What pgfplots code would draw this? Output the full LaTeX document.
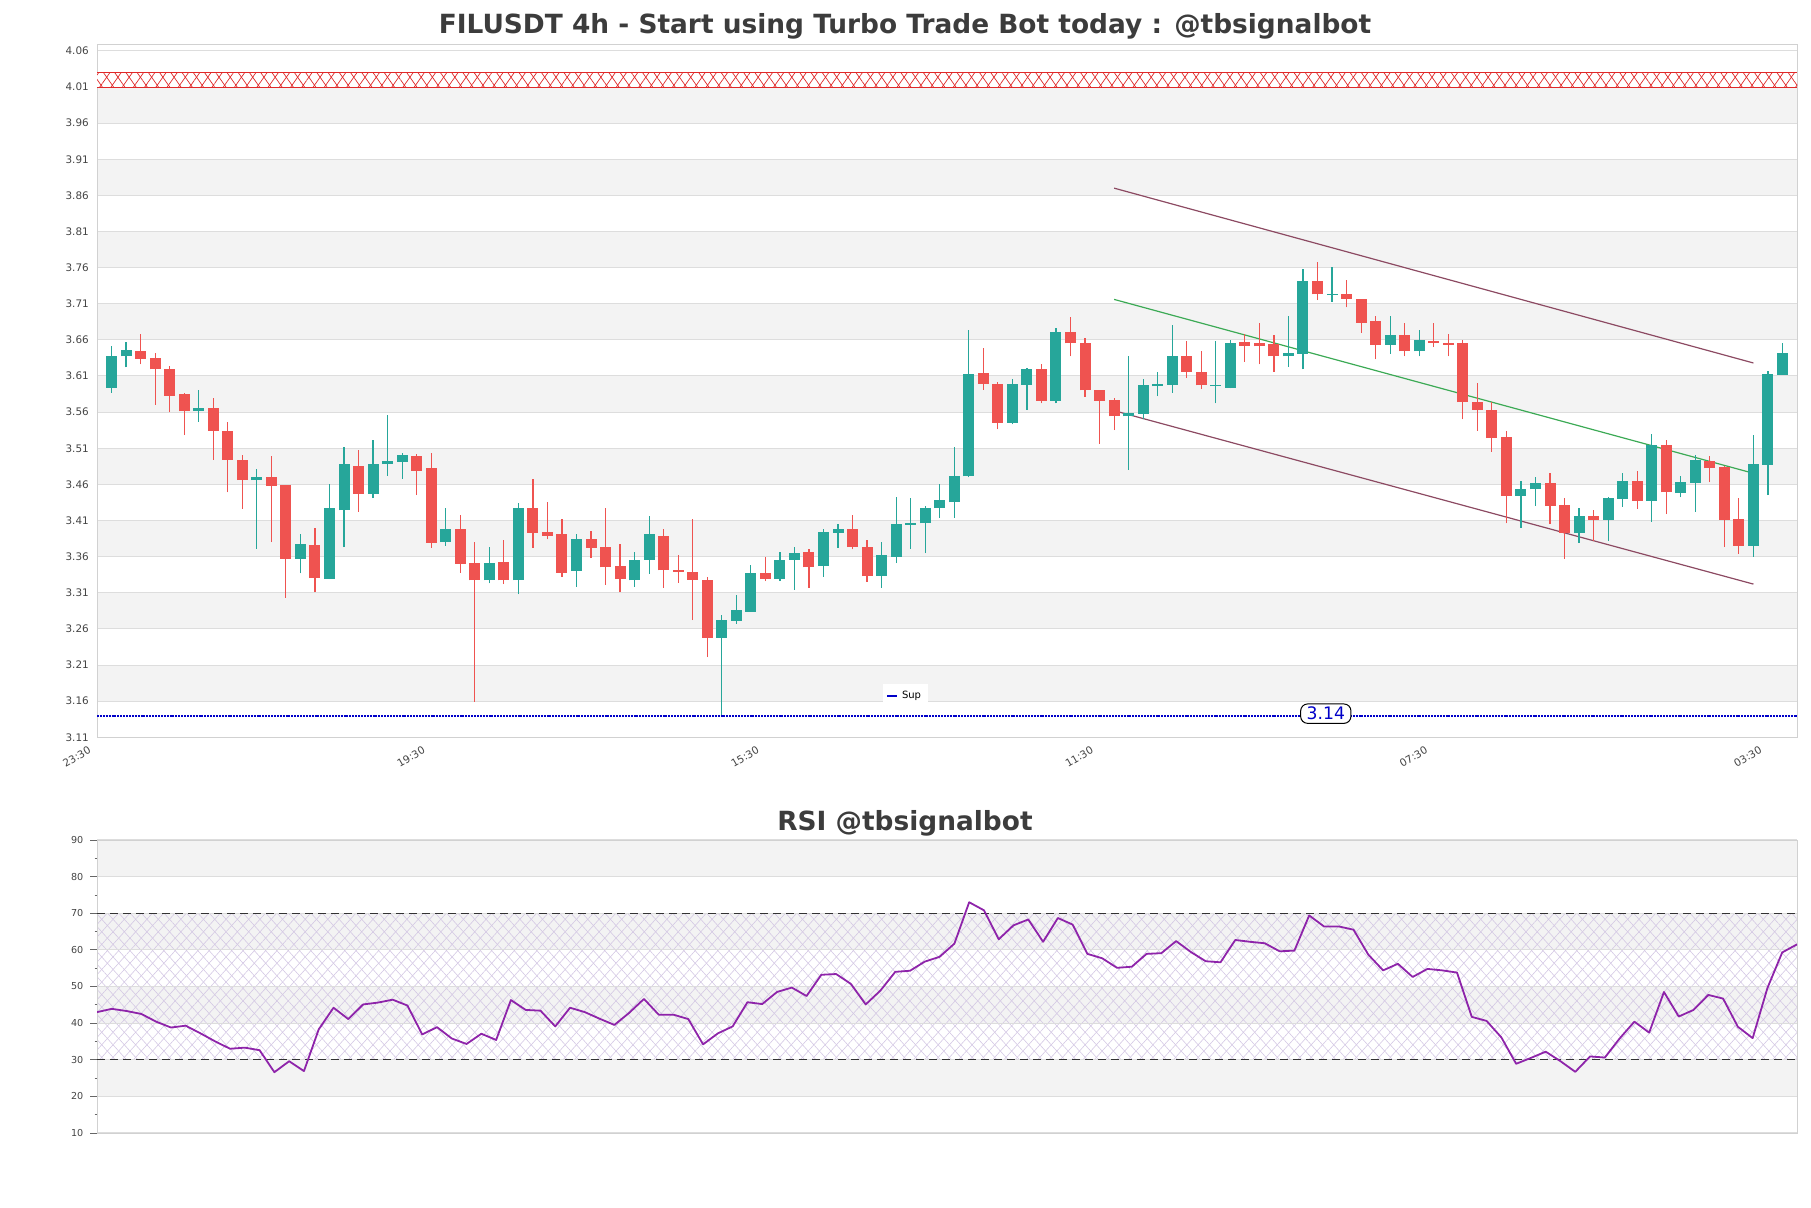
\documentclass[border=0pt]{standalone}
\usepackage{pgfplots}
\pgfplotsset{compat=1.18}
\usepackage{pgfplotstable}
\usepackage{fontspec}
\setmainfont{DejaVu Sans}
\usetikzlibrary{patterns.meta}

\definecolor{cgreen}{HTML}{26A69A}
\definecolor{cred}{HTML}{EF5350}
\definecolor{band}{HTML}{F3F3F3}
\definecolor{gridc}{HTML}{DDDDDD}
\definecolor{chan}{HTML}{8C4A62}
\definecolor{mid}{HTML}{3CAA55}
\definecolor{sup}{HTML}{0000C8}
\definecolor{rsic}{HTML}{8E24AA}
\definecolor{lav}{HTML}{D4C8E4}
\definecolor{titlec}{HTML}{3C3C3C}
\definecolor{tickc}{HTML}{444444}
\definecolor{hatchred}{HTML}{E02828}

% green candles: index open high low close
\pgfplotstableread{
i o h l c
0 3.594 3.652 3.587 3.638
1 3.637 3.657 3.622 3.646
6 3.562 3.591 3.547 3.566
10 3.466 3.481 3.371 3.470
13 3.357 3.392 3.337 3.377
15 3.329 3.461 3.329 3.427
16 3.424 3.512 3.373 3.488
18 3.447 3.522 3.441 3.488
19 3.488 3.556 3.472 3.492
20 3.491 3.503 3.468 3.500
23 3.380 3.428 3.375 3.398
26 3.327 3.373 3.323 3.351
28 3.327 3.434 3.308 3.427
32 3.340 3.391 3.318 3.384
36 3.327 3.366 3.318 3.356
37 3.356 3.416 3.336 3.391
42 3.248 3.279 3.141 3.272
43 3.271 3.307 3.267 3.286
44 3.284 3.348 3.284 3.337
46 3.329 3.367 3.326 3.356
47 3.356 3.373 3.314 3.365
49 3.347 3.398 3.332 3.394
50 3.393 3.405 3.372 3.398
53 3.333 3.380 3.317 3.362
54 3.360 3.442 3.351 3.405
55 3.404 3.441 3.371 3.407
56 3.406 3.430 3.365 3.427
57 3.427 3.461 3.414 3.438
58 3.435 3.512 3.414 3.472
59 3.471 3.674 3.470 3.613
62 3.545 3.606 3.543 3.599
63 3.598 3.621 3.563 3.620
65 3.576 3.677 3.572 3.671
70 3.554 3.638 3.480 3.559
71 3.558 3.606 3.550 3.597
72 3.596 3.615 3.582 3.599
73 3.598 3.681 3.587 3.638
76 3.596 3.659 3.572 3.598
77 3.594 3.660 3.593 3.656
81 3.637 3.693 3.623 3.642
82 3.641 3.758 3.619 3.742
84 3.722 3.761 3.713 3.724
88 3.653 3.693 3.641 3.667
90 3.644 3.674 3.637 3.660
97 3.444 3.464 3.400 3.453
98 3.453 3.470 3.430 3.462
101 3.393 3.428 3.379 3.416
103 3.411 3.442 3.382 3.441
104 3.440 3.476 3.429 3.465
106 3.437 3.530 3.408 3.514
108 3.448 3.471 3.442 3.463
109 3.462 3.501 3.422 3.494
113 3.375 3.528 3.360 3.488
114 3.487 3.617 3.445 3.613
115 3.612 3.655 3.612 3.642
}\greencandles

% red candles
\pgfplotstableread{
i o h l c
2 3.645 3.668 3.626 3.634
3 3.635 3.642 3.570 3.619
4 3.620 3.624 3.560 3.583
5 3.585 3.587 3.528 3.561
7 3.566 3.579 3.494 3.534
8 3.534 3.546 3.449 3.494
9 3.494 3.501 3.426 3.466
11 3.470 3.499 3.380 3.458
12 3.459 3.459 3.303 3.357
14 3.376 3.399 3.311 3.331
17 3.486 3.507 3.422 3.447
21 3.499 3.502 3.445 3.479
22 3.482 3.504 3.372 3.379
24 3.398 3.418 3.338 3.350
25 3.351 3.380 3.159 3.327
27 3.352 3.383 3.322 3.327
29 3.427 3.468 3.372 3.393
30 3.394 3.436 3.384 3.389
31 3.391 3.412 3.332 3.338
33 3.384 3.395 3.358 3.372
34 3.373 3.427 3.321 3.345
35 3.347 3.378 3.311 3.329
38 3.389 3.398 3.317 3.341
39 3.342 3.362 3.324 3.339
40 3.339 3.412 3.272 3.328
41 3.328 3.332 3.221 3.248
45 3.337 3.359 3.326 3.329
48 3.366 3.370 3.317 3.345
51 3.398 3.417 3.370 3.373
52 3.374 3.383 3.325 3.333
60 3.614 3.649 3.591 3.599
61 3.599 3.602 3.536 3.545
64 3.620 3.627 3.572 3.576
66 3.671 3.691 3.637 3.655
67 3.656 3.663 3.581 3.590
68 3.591 3.591 3.516 3.576
69 3.577 3.579 3.535 3.554
74 3.638 3.658 3.607 3.616
75 3.616 3.644 3.592 3.597
78 3.657 3.668 3.630 3.652
79 3.655 3.684 3.626 3.651
80 3.654 3.667 3.616 3.637
83 3.742 3.768 3.715 3.723
85 3.724 3.743 3.705 3.717
86 3.717 3.717 3.670 3.684
87 3.686 3.693 3.633 3.653
89 3.667 3.684 3.637 3.644
91 3.659 3.684 3.650 3.656
92 3.656 3.668 3.637 3.653
93 3.655 3.660 3.550 3.574
94 3.574 3.601 3.534 3.563
95 3.563 3.574 3.505 3.524
96 3.525 3.534 3.406 3.444
99 3.462 3.476 3.405 3.430
100 3.432 3.441 3.357 3.393
102 3.416 3.424 3.382 3.411
105 3.465 3.478 3.426 3.437
107 3.514 3.521 3.419 3.449
110 3.493 3.499 3.463 3.482
111 3.484 3.485 3.373 3.411
112 3.412 3.441 3.364 3.375
}\redcandles

% RSI
\pgfplotstableread{
j v
0 43.0
1 43.9
2 43.3
3 42.5
4 40.4
5 38.8
6 39.3
7 37.2
8 35.0
9 33.0
10 33.3
11 32.6
12 26.6
13 29.6
14 26.9
15 38.3
16 44.2
17 41.1
18 45.1
19 45.6
20 46.4
21 44.8
22 36.9
23 38.9
24 35.8
25 34.3
26 37.1
27 35.4
28 46.3
29 43.6
30 43.4
31 39.1
32 44.2
33 43.0
34 41.2
35 39.5
36 42.8
37 46.6
38 42.3
39 42.3
40 41.1
41 34.2
42 37.2
43 39.1
44 45.7
45 45.2
46 48.5
47 49.7
48 47.4
49 53.2
50 53.4
51 50.7
52 45.1
53 48.9
54 54.0
55 54.3
56 56.8
57 58.1
58 61.7
59 73.0
60 70.8
61 62.9
62 66.7
63 68.3
64 62.2
65 68.7
66 66.9
67 58.9
68 57.7
69 55.1
70 55.4
71 58.9
72 59.1
73 62.4
74 59.4
75 56.9
76 56.6
77 62.7
78 62.2
79 61.8
80 59.6
81 59.8
82 69.4
83 66.4
84 66.4
85 65.5
86 58.7
87 54.4
88 56.2
89 52.6
90 54.8
91 54.4
92 53.8
93 41.7
94 40.6
95 36.1
96 28.9
97 30.5
98 32.2
99 29.6
100 26.7
101 30.9
102 30.6
103 35.8
104 40.4
105 37.4
106 48.5
107 41.8
108 43.6
109 47.7
110 46.7
111 39.0
112 35.9
113 49.6
114 59.3
115 61.5
}\rsi

\begin{document}
\begin{tikzpicture}

\node[anchor=base, font=\fontsize{13.2}{15}\selectfont\bfseries, text=titlec]
  at (452.5pt,587.3pt) {FILUSDT 4h - Start using Turbo Trade Bot today : @tbsignalbot};
\node[anchor=base, font=\fontsize{13.2}{15}\selectfont\bfseries, text=titlec]
  at (452.5pt,188.8pt) {RSI @tbsignalbot};

% price panel
\begin{axis}[
  set layers,
  at={(48.5pt,235.35pt)}, anchor=south west,
  width=850pt, height=346.65pt, scale only axis,
  xmin=-1, xmax=116, ymin=3.11, ymax=4.0695,
  axis line style={draw=black!18},
  major tick length=0pt,
  ytick={3.11,3.16,3.21,3.26,3.31,3.36,3.41,3.46,3.51,3.56,3.61,3.66,3.71,3.76,3.81,3.86,3.91,3.96,4.01,4.06},
  yticklabels={3.11,3.16,3.21,3.26,3.31,3.36,3.41,3.46,3.51,3.56,3.61,3.66,3.71,3.76,3.81,3.86,3.91,3.96,4.01,4.06},
  yticklabel style={font=\fontsize{5.2}{6}\selectfont, text=tickc, xshift=-0.6pt},
  xtick={-1,22,45,68,91,114},
  xticklabels={23:30,19:30,15:30,11:30,07:30,03:30},
  xticklabel style={font=\fontsize{5.2}{6}\selectfont, text=tickc, rotate=30, anchor=north east,
    xshift=-2.6pt, yshift=2.2pt},
  ymajorgrids, grid style={gridc, line width=0.5pt},
  legend style={at={(0.4756,0.0596)}, anchor=center, draw=none, fill=white,
    font=\fontsize{5}{6}\selectfont, inner sep=1.5pt},
  legend image code/.code={\draw[#1, solid, line width=1pt] (0pt,0pt) -- (5pt,0pt);},
]
\begin{pgfonlayer}{axis background}
  \fill[band] (axis cs:-1,3.16) rectangle (axis cs:116,3.21);
  \fill[band] (axis cs:-1,3.26) rectangle (axis cs:116,3.31);
  \fill[band] (axis cs:-1,3.36) rectangle (axis cs:116,3.41);
  \fill[band] (axis cs:-1,3.46) rectangle (axis cs:116,3.51);
  \fill[band] (axis cs:-1,3.56) rectangle (axis cs:116,3.61);
  \fill[band] (axis cs:-1,3.66) rectangle (axis cs:116,3.71);
  \fill[band] (axis cs:-1,3.76) rectangle (axis cs:116,3.81);
  \fill[band] (axis cs:-1,3.86) rectangle (axis cs:116,3.91);
  \fill[band] (axis cs:-1,3.96) rectangle (axis cs:116,4.01);
\end{pgfonlayer}

% resistance zone
\fill[white] (axis cs:-1,4.009) rectangle (axis cs:116,4.030);
\fill[pattern={Lines[angle=55,distance=4.6pt,line width=0.35pt]}, pattern color=hatchred]
  (axis cs:-1,4.009) rectangle (axis cs:116,4.030);
\fill[pattern={Lines[angle=-55,distance=4.6pt,line width=0.35pt]}, pattern color=hatchred]
  (axis cs:-1,4.009) rectangle (axis cs:116,4.030);
\draw[hatchred, line width=0.4pt] (axis cs:-1,4.009) -- (axis cs:116,4.009)
  (axis cs:-1,4.030) -- (axis cs:116,4.030);

% channel
\addplot[forget plot, chan, line width=0.6pt] coordinates {(69,3.870) (113,3.628)};
\addplot[forget plot, chan, line width=0.6pt] coordinates {(69,3.562) (113,3.322)};
\addplot[forget plot, mid, line width=0.6pt] coordinates {(69,3.716) (112.7,3.477)};

% wicks
\addplot[forget plot, cgreen, line width=0.6pt, mark=none,
  quiver={u=0, v=\thisrow{h}-\thisrow{l}}] table[x=i, y=l] {\greencandles};
\addplot[forget plot, cred, line width=0.6pt, mark=none,
  quiver={u=0, v=\thisrow{h}-\thisrow{l}}] table[x=i, y=l] {\redcandles};
% bodies
\addplot[forget plot, cgreen, line width=5.5pt, mark=none,
  quiver={u=0, v=\thisrow{c}-\thisrow{o}}] table[x=i, y=o] {\greencandles};
\addplot[forget plot, cred, line width=5.5pt, mark=none,
  quiver={u=0, v=\thisrow{o}-\thisrow{c}}] table[x=i, y=c] {\redcandles};

% support
\addplot[sup, line width=1.1pt, dash pattern=on 1pt off 0.45pt] coordinates {(-1,3.14) (116,3.14)};
\addlegendentry{Sup}
\node[draw=black, rounded corners=3.5pt, fill=white, text=sup, inner xsep=3pt, inner ysep=1.6pt,
  line width=0.5pt, font=\fontsize{8.6}{9}\selectfont] at (axis cs:83.57,3.1427) {3.14};
\end{axis}

% RSI panel
\begin{axis}[
  set layers,
  at={(48.5pt,37.5pt)}, anchor=south west,
  width=850pt, height=146.5pt, scale only axis,
  xmin=0, xmax=115, ymin=10, ymax=90,
  axis line style={draw=black!18},
  xtick=\empty,
  ytick={10,20,30,40,50,60,70,80,90},
  minor ytick={15,25,35,45,55,65,75,85},
  ytick pos=left, tick align=outside,
  major tick length=3.3pt, minor tick length=1.2pt,
  tick style={black!60, line width=0.4pt},
  /pgf/number format/assume math mode=true,
  yticklabel style={font=\fontsize{4.8}{6}\selectfont, text=tickc},
  ymajorgrids, grid style={gridc, line width=0.5pt},
]
\begin{pgfonlayer}{axis background}
  \fill[band] (axis cs:0,20) rectangle (axis cs:115,30);
  \fill[band] (axis cs:0,40) rectangle (axis cs:115,50);
  \fill[band] (axis cs:0,60) rectangle (axis cs:115,70);
  \fill[band] (axis cs:0,80) rectangle (axis cs:115,90);
  \fill[pattern={Lines[angle=48,distance=4.2pt,line width=0.3pt]}, pattern color=lav]
    (axis cs:0,30) rectangle (axis cs:115,70);
  \fill[pattern={Lines[angle=-48,distance=4.2pt,line width=0.3pt]}, pattern color=lav]
    (axis cs:0,30) rectangle (axis cs:115,70);
\end{pgfonlayer}
\addplot[black!80, line width=0.6pt, dash pattern=on 4pt off 2.5pt] coordinates {(0,30) (115,30)};
\addplot[black!80, line width=0.6pt, dash pattern=on 4pt off 2.5pt] coordinates {(0,70) (115,70)};
\addplot[rsic, line width=0.9pt, line join=round] table[x=j, y=v] {\rsi};
\end{axis}

\pgfresetboundingbox
\path[use as bounding box] (0,0) rectangle (905.5pt,604pt);
\end{tikzpicture}
\end{document}
